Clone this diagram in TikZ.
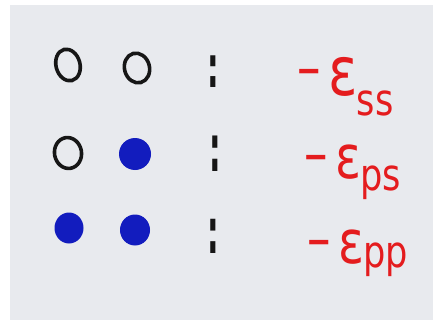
\documentclass[tikz,border=0pt]{standalone}
\usepackage{fontspec}
\setmainfont{DejaVu Sans}
\usepackage{graphicx}
\definecolor{paper}{RGB}{232,234,238}
\definecolor{ink}{RGB}{22,22,22}
\definecolor{bluedot}{RGB}{18,28,190}
\definecolor{redink}{RGB}{228,28,30}
\newcommand\energylabel[4]{\scalebox{0.8}[1]{\raisebox{#3}{\bfseries\fontsize{38}{38}\selectfont −}\hspace{8pt}{\fontsize{#4}{#4}\selectfont ε}\hspace{-1pt}\raisebox{#2}{\fontsize{44}{44}\selectfont #1}}}
\tikzset{
  openorb/.style={draw=ink, line width=3.6pt, fill=none},
  fullorb/.style={fill=bluedot, draw=none},
  colonmark/.style={text=ink, inner sep=0pt, font=\bfseries\fontsize{58}{58}\selectfont},
  energy/.style={text=redink, inner sep=0pt, anchor=base west},
}
\begin{document}
\begin{tikzpicture}[x=1pt,y=-1pt]
\useasboundingbox (0,0) rectangle (433,321);
\fill[white] (0,0) rectangle (433,321);
\fill[paper] (10,5) rectangle (433,320);
% row 1
\draw[openorb, rotate around={15:(68,65)}] (68,65) ellipse [x radius=12, y radius=16];
\draw[openorb, rotate around={15:(137,68)}] (137,68) ellipse [x radius=12.5, y radius=15];
\node[colonmark] (c1) at (213,72) {\scalebox{0.5}[1.0]{:}};
\node[energy] (e1) at (296,95) {\energylabel{ss}{-20pt}{12pt}{68}};
% row 2
\draw[openorb, rotate around={10:(68,153)}] (68,153) ellipse [x radius=13.5, y radius=15.5];
\fill[fullorb] (135,154) circle [radius=16];
\node[colonmark] (c2) at (215,154) {\scalebox{0.5}[1.12]{:}};
\node[energy] (e2) at (303,178) {\energylabel{ps}{-12pt}{9pt}{60}};
% row 3
\fill[fullorb] (69,228) ellipse [x radius=14.5, y radius=15.5];
\fill[fullorb] (135,230) ellipse [x radius=15, y radius=15.5];
\node[colonmark] (c3) at (213,236) {\scalebox{0.5}[1.08]{:}};
\node[energy] (e3) at (306,263) {\energylabel{pp}{-4pt}{9pt}{60}};
\end{tikzpicture}
\end{document}
